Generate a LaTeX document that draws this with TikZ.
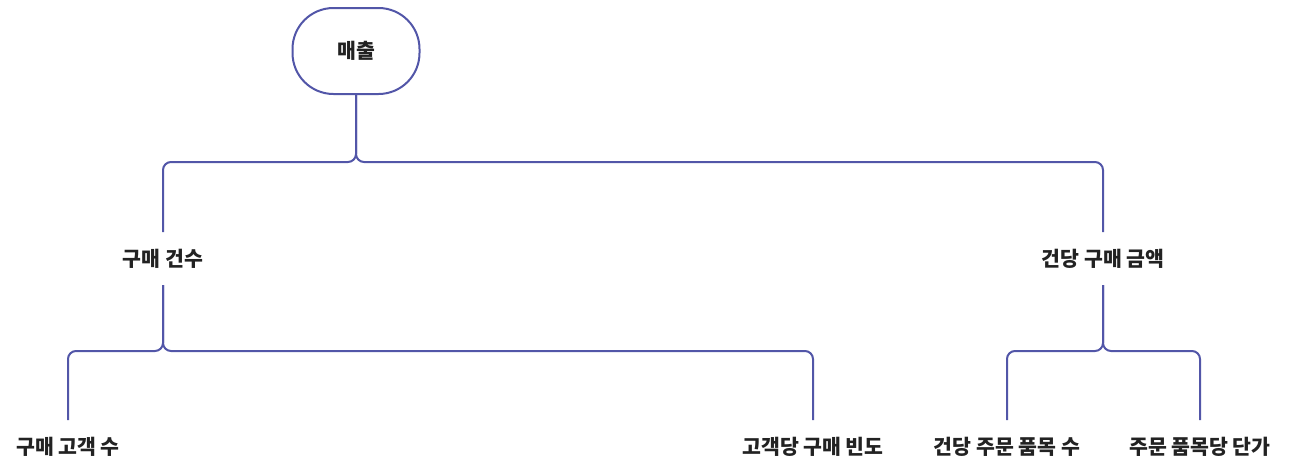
\documentclass[tikz,border=0pt]{standalone}
\usepackage{fontspec}
\setmainfont{Noto Sans CJK KR}
\begin{document}
\begin{tikzpicture}[x=1pt,y=-1pt,
  conn/.style={draw=lineblue,line width=2pt,rounded corners=8pt},
  lbl/.style={font=\fontsize{20.5}{22}\selectfont\bfseries,text=textgray,minimum height=53pt,inner sep=0pt,outer sep=0pt},
  root/.style={draw=lineblue,line width=2pt,rounded corners=41pt,minimum width=127pt,minimum height=86pt,font=\fontsize{20.5}{22}\selectfont\bfseries,text=textgray,inner sep=0pt}]
\definecolor{lineblue}{RGB}{82,86,168}
\definecolor{textgray}{RGB}{34,34,34}
\useasboundingbox (0,0) rectangle (1293,466);
\node[root] (n0) at (356,51) {매출};
\node[lbl] (n1) at (163,258.5) {구매 건수};
\node[lbl] (n2) at (1103,258.5) {건당 구매 금액};
\node[lbl] (n11) at (68,446.5) {구매 고객 수};
\node[lbl] (n12) at (813,446.5) {고객당 구매 빈도};
\node[lbl] (n21) at (1007,446.5) {건당 주문 품목 수};
\node[lbl] (n22) at (1200,446.5) {주문 품목당 단가};
\coordinate (h0) at (0,162);
\coordinate (h1) at (0,351);
\draw[conn] (n1.north) -- (n1.north |- h0) -- (n0.south |- h0) -- (n0.south);
\draw[conn] (n2.north) -- (n2.north |- h0) -- (n0.south |- h0) -- (n0.south);
\draw[conn] (n11.north) -- (n11.north |- h1) -- (n1.south |- h1) -- (n1.south);
\draw[conn] (n12.north) -- (n12.north |- h1) -- (n1.south |- h1) -- (n1.south);
\draw[conn] (n21.north) -- (n21.north |- h1) -- (n2.south |- h1) -- (n2.south);
\draw[conn] (n22.north) -- (n22.north |- h1) -- (n2.south |- h1) -- (n2.south);
\end{tikzpicture}
\end{document}
